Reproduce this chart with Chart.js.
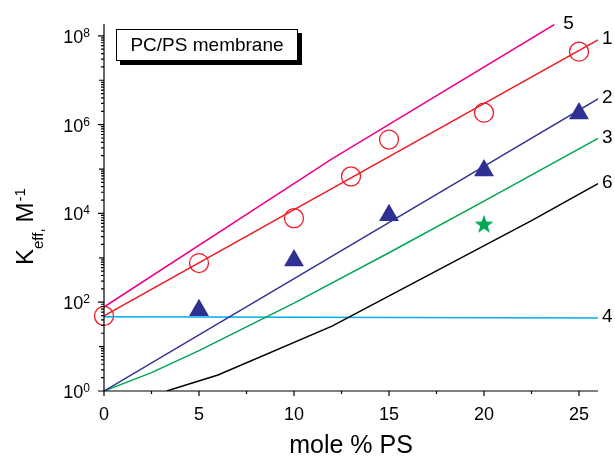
<!DOCTYPE html>
<html lang="en">
<head>
<meta charset="UTF-8">
<title>Keff vs mole % PS</title>
<script src="https://cdn.jsdelivr.net/npm/chart.js"></script>
<style>
  body { margin: 0; background: #fff; }
  canvas { display: block; }
</style>
</head>
<body>
<canvas id="chart" width="615" height="457"></canvas>
<script>
// theory curves (x = mole % PS, y = Keff in 1/M)
const line5X = [0, 12, 23.7];
const line5Y = [78, 1.7e5, 1.8e8];
const line1X = [0, 26];
const line1Y = [49, 8.1e7];
const line2X = [0, 26];
const line2Y = [1, 3.8e6];
const line3X = [0, 2.5, 5, 10, 15, 20, 26];
const line3Y = [1, 2.6, 8.1, 95, 1.3e3, 1.9e4, 4.9e5];
const line4X = [0, 26];
const line4Y = [47, 44];
const line6X = [3.3, 6, 12, 22.5, 26];
const line6Y = [1, 2.3, 29, 6.9e3, 4.7e4];

// measured points
const circleX = [0, 5, 10, 13, 15, 20, 25];
const circleY = [49, 760, 7.8e3, 6.8e4, 4.6e5, 1.86e6, 4.4e7];
const triX = [5, 10, 15, 20, 25];
const triY = [66, 870, 9.1e3, 9.3e4, 1.78e6];
const starX = [20];
const starY = [5.7e3];

const xTicks = [0, 5, 10, 15, 20, 25];
const yDecades = [0, 2, 4, 6, 8];

const FONT = '"Liberation Sans", Arial, sans-serif';

function pts(xs, ys) {
    return xs.map((x, i) => ({ x: x, y: ys[i] }));
}

function lineSet(label, xs, ys, color, dx) {
    return {
        label: label,
        data: pts(xs, ys),
        borderColor: color,
        borderWidth: 1.5,
        pointRadius: 0,
        fill: false,
        tension: 0,
        isCurve: true,
        labelDx: dx
    };
}

// filled five point star for the green marker
const starImg = document.createElement('canvas');
starImg.width = 20;
starImg.height = 20;
(function () {
    const c = starImg.getContext('2d');
    c.fillStyle = '#00a651';
    c.beginPath();
    for (let i = 0; i < 10; i++) {
        const r = i % 2 === 0 ? 10 : 4;
        const a = -Math.PI / 2 + i * Math.PI / 5;
        const px = 10 + r * Math.cos(a), py = 10.5 + r * Math.sin(a);
        if (i === 0) c.moveTo(px, py); else c.lineTo(px, py);
    }
    c.closePath();
    c.fill();
})();

const axesPlugin = {
    id: 'axesPlugin',
    afterDraw(chart) {
        const ctx = chart.ctx;
        const xs = chart.scales.x, ys = chart.scales.y;
        const a = chart.chartArea;
        ctx.save();
        ctx.strokeStyle = '#000';
        ctx.fillStyle = '#000';
        ctx.lineWidth = 1.2;

        // axis lines
        ctx.beginPath();
        ctx.moveTo(a.left, a.top);
        ctx.lineTo(a.left, a.bottom);
        ctx.lineTo(a.right, a.bottom);
        ctx.stroke();

        // x ticks
        ctx.beginPath();
        for (let v = 0; v <= 26; v += 2.5) {
            const px = xs.getPixelForValue(v);
            const len = (v % 5 === 0) ? 5 : 3;
            ctx.moveTo(px, a.bottom);
            ctx.lineTo(px, a.bottom + len);
        }
        // y ticks
        for (let d = 0; d <= 8; d++) {
            for (let m = 1; m <= 9; m++) {
                const v = m * Math.pow(10, d);
                if (v > ys.max) break;
                const py = ys.getPixelForValue(v);
                const len = m === 1 ? (d % 2 === 0 ? 6 : 5) : 3;
                ctx.moveTo(a.left - len, py);
                ctx.lineTo(a.left, py);
            }
        }
        ctx.stroke();

        // x tick labels
        ctx.font = '18px ' + FONT;
        ctx.textAlign = 'center';
        ctx.textBaseline = 'alphabetic';
        xTicks.forEach(v => {
            ctx.fillText(String(v), xs.getPixelForValue(v), a.bottom + 29);
        });

        // y tick labels 10^n
        yDecades.forEach(d => {
            const py = ys.getPixelForValue(Math.pow(10, d));
            ctx.font = '12px ' + FONT;
            const sw = ctx.measureText(String(d)).width;
            ctx.textAlign = 'right';
            ctx.fillText(String(d), a.left - 14, py + 1);
            ctx.font = '18px ' + FONT;
            ctx.fillText('10', a.left - 14 - sw, py + 7);
        });

        // axis titles
        ctx.font = '25px ' + FONT;
        ctx.textAlign = 'center';
        ctx.fillText('mole % PS', (a.left + a.right) / 2, 453);

        ctx.save();
        ctx.translate(33, 265);
        ctx.rotate(-Math.PI / 2);
        ctx.textAlign = 'left';
        let cx = 0;
        ctx.font = '24px ' + FONT;
        ctx.fillText('K', cx, 0);
        cx += ctx.measureText('K').width;
        ctx.font = '15px ' + FONT;
        ctx.fillText('eff,', cx, 10);
        cx += ctx.measureText('eff,').width + 6;
        ctx.font = '24px ' + FONT;
        ctx.fillText('M', cx, 0);
        cx += ctx.measureText('M').width + 1;
        ctx.font = '15px ' + FONT;
        ctx.fillText('-1', cx, -8);
        ctx.restore();

        // curve numbers at the end of each curve
        ctx.font = '19px ' + FONT;
        ctx.textAlign = 'left';
        ctx.textBaseline = 'middle';
        chart.data.datasets.forEach((ds, i) => {
            if (!ds.isCurve) return;
            const meta = chart.getDatasetMeta(i);
            const last = meta.data[meta.data.length - 1];
            ctx.fillText(ds.label, last.x + ds.labelDx, last.y - 1);
        });

        // legend box
        ctx.fillStyle = '#000';
        ctx.fillRect(120, 33, 182, 32);
        ctx.fillStyle = '#fff';
        ctx.fillRect(116, 29, 182, 32);
        ctx.strokeStyle = '#000';
        ctx.lineWidth = 1;
        ctx.strokeRect(116.5, 29.5, 181, 31);
        ctx.fillStyle = '#000';
        ctx.font = '19px ' + FONT;
        ctx.textAlign = 'center';
        ctx.fillText('PC/PS membrane', 207, 46);

        ctx.restore();
    }
};

new Chart(document.getElementById('chart'), {
    type: 'line',
    data: {
        datasets: [
            lineSet('5', line5X, line5Y, '#ec008c', 9),
            lineSet('1', line1X, line1Y, '#ed1c24', 4),
            lineSet('2', line2X, line2Y, '#2e3192', 4),
            lineSet('3', line3X, line3Y, '#00a651', 4),
            lineSet('6', line6X, line6Y, '#000000', 4),
            lineSet('4', line4X, line4Y, '#00aeef', 4),
            {
                label: 'circles',
                data: pts(circleX, circleY),
                showLine: false,
                pointStyle: 'circle',
                pointRadius: 9.5,
                pointBorderWidth: 1.3,
                pointBorderColor: '#ed1c24',
                pointBackgroundColor: 'rgba(0,0,0,0)',
                clip: false
            },
            {
                label: 'triangles',
                data: pts(triX, triY),
                showLine: false,
                pointStyle: 'triangle',
                pointRadius: 11.5,
                pointBorderWidth: 0,
                pointBackgroundColor: '#2e3192',
                pointBorderColor: '#2e3192'
            },
            {
                label: 'star',
                data: pts(starX, starY),
                showLine: false,
                pointStyle: starImg,
                pointRadius: 10
            }
        ]
    },
    options: {
        responsive: false,
        animation: false,
        layout: { padding: { left: 104, right: 17, top: 24, bottom: 66 } },
        plugins: { legend: { display: false }, tooltip: { enabled: false } },
        scales: {
            x: { type: 'linear', min: 0, max: 26, display: false },
            y: { type: 'logarithmic', min: 1, max: 1.85e8, display: false }
        }
    },
    plugins: [axesPlugin]
});
</script>
</body>
</html>
